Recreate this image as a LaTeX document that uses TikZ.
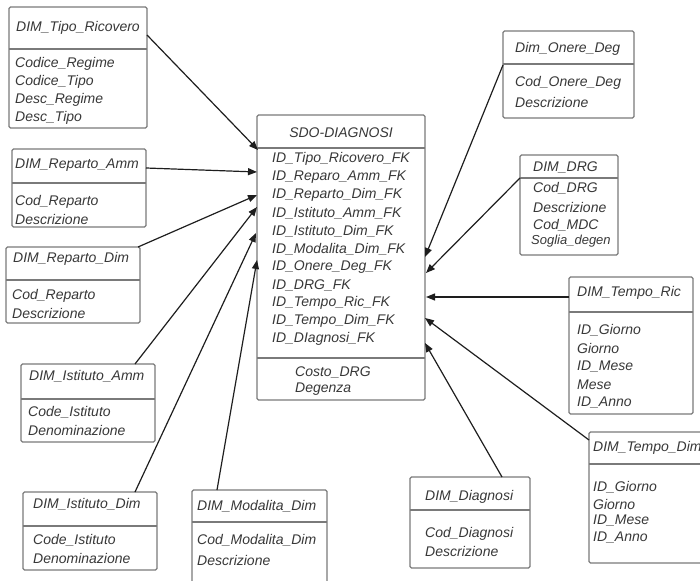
\documentclass[tikz,border=0pt]{standalone}
\usepackage{fontspec}
\setmainfont{Liberation Sans}
\usetikzlibrary{arrows.meta}
\definecolor{txt}{HTML}{383838}
\definecolor{bord}{HTML}{7A7A7A}
\definecolor{wire}{HTML}{1E1E1E}
\tikzset{
  ebox/.style={draw=bord,line width=1.1pt,rounded corners=1.5pt,fill=white},
  div/.style={draw=bord,line width=1.1pt},
  attr/.style={anchor=west,inner sep=0pt,text=txt,font=\fontsize{14}{16}\selectfont\itshape},
  small/.style={attr,font=\fontsize{13}{15}\selectfont\itshape},
  ctitle/.style={attr,anchor=center},
  link/.style={draw=wire,line width=1.2pt,-{Triangle[length=9pt,width=7pt]}}
}
\begin{document}
\begin{tikzpicture}[x=1pt,y=-1pt]
\useasboundingbox (0,0) rectangle (700,580);
\clip (0,0) rectangle (700,580);
% ---------- DIM_Tipo_Ricovero
\draw[ebox] (9,7) rectangle (147,128);
\draw[div] (9,49) -- (147,49);
\node[attr] (t1) at (16,28) {DIM\_Tipo\_Ricovero};
\node[attr] (t1a) at (15,64) {Codice\_Regime};
\node[attr] (t1b) at (15,82) {Codice\_Tipo};
\node[attr] (t1c) at (15,100) {Desc\_Regime};
\node[attr] (t1d) at (15,118) {Desc\_Tipo};
\coordinate (tipo) at (147,35);
% ---------- DIM_Reparto_Amm
\draw[ebox] (12,149) rectangle (146,227);
\draw[div] (12,183) -- (146,183);
\node[attr] (t2) at (15,165) {DIM\_Reparto\_Amm};
\node[attr] (t2a) at (15,202) {Cod\_Reparto};
\node[attr] (t2b) at (15,219) {Descrizione};
\coordinate (repamm) at (146,168);
% ---------- DIM_Reparto_Dim
\draw[ebox] (6,247) rectangle (140,323);
\draw[div] (6,280) -- (140,280);
\node[attr] (t3) at (13,259) {DIM\_Reparto\_Dim};
\node[attr] (t3a) at (12,296) {Cod\_Reparto};
\node[attr] (t3b) at (12,313) {Descrizione};
\coordinate (repdim) at (138,247);
% ---------- DIM_Istituto_Amm
\draw[ebox] (21,364) rectangle (155,442);
\draw[div] (21,399) -- (155,399);
\node[attr] (t4) at (29,376) {DIM\_Istituto\_Amm};
\node[attr] (t4a) at (28,412) {Code\_Istituto};
\node[attr] (t4b) at (28,430) {Denominazione};
\coordinate (istamm) at (135,364);
% ---------- DIM_Istituto_Dim
\draw[ebox] (23,492) rectangle (157,570);
\draw[div] (23,526) -- (157,526);
\node[attr] (t5) at (33,504) {DIM\_Istituto\_Dim};
\node[attr] (t5a) at (33,540) {Code\_Istituto};
\node[attr] (t5b) at (33,558) {Denominazione};
\coordinate (istdim) at (135,492);
% ---------- DIM_Modalita_Dim
\draw[ebox] (192,490) rectangle (327,600);
\draw[div] (192,522) -- (327,522);
\node[attr] (t6) at (197,506) {DIM\_Modalita\_Dim};
\node[attr] (t6a) at (197,540) {Cod\_Modalita\_Dim};
\node[attr] (t6b) at (197,560) {Descrizione};
\coordinate (moddim) at (217,490);
% ---------- DIM_Diagnosi
\draw[ebox] (410,477) rectangle (530,568);
\draw[div] (410,510) -- (530,510);
\node[attr] (t7) at (425,497) {DIM\_Diagnosi};
\node[attr] (t7a) at (425,534) {Cod\_Diagnosi};
\node[attr] (t7b) at (425,551) {Descrizione};
\coordinate (diagn) at (502,477);
% ---------- DIM_Tempo_Dim
\draw[ebox] (589,432) rectangle (720,563);
\draw[div] (589,464) -- (720,464);
\node[attr] (t8) at (593,448) {DIM\_Tempo\_Dim};
\node[attr] (t8a) at (593,487) {ID\_Giorno};
\node[attr] (t8b) at (593,504) {Giorno};
\node[attr] (t8c) at (593,521) {ID\_Mese};
\node[attr] (t8d) at (593,538) {ID\_Anno};
\coordinate (tempodim) at (589,440);
% ---------- DIM_Tempo_Ric
\draw[ebox] (569,277) rectangle (693,414);
\draw[div] (569,312) -- (693,312);
\node[attr] (t9) at (577,293) {DIM\_Tempo\_Ric};
\node[attr] (t9a) at (577,330) {ID\_Giorno};
\node[attr] (t9b) at (577,348) {Giorno};
\node[attr] (t9c) at (577,367) {ID\_Mese};
\node[attr] (t9d) at (577,385) {Mese};
\node[attr] (t9e) at (577,403) {ID\_Anno};
\coordinate (temporic) at (569,297);
% ---------- DIM_DRG
\draw[ebox] (520,155) rectangle (618,255);
\draw[div] (520,178) -- (618,178);
\node[attr] (t10) at (533,167) {DIM\_DRG};
\node[attr] (t10a) at (533,188) {Cod\_DRG};
\node[attr] (t10b) at (533,207) {Descrizione};
\node[attr] (t10c) at (533,225) {Cod\_MDC};
\node[small] (t10d) at (531,241) {Soglia\_degen};
\coordinate (drg) at (520,178);
% ---------- Dim_Onere_Deg
\draw[ebox] (503,31) rectangle (634,118);
\draw[div] (503,64) -- (634,64);
\node[attr] (t11) at (515,49) {Dim\_Onere\_Deg};
\node[attr] (t11a) at (515,83) {Cod\_Onere\_Deg};
\node[attr] (t11b) at (515,102) {Descrizione};
\coordinate (onere) at (503,65);
% ---------- SDO-DIAGNOSI
\draw[ebox] (257,115) rectangle (425,400);
\draw[div] (257,148) -- (425,148);
\draw[div] (257,358) -- (425,358);
\node[ctitle] (sdo) at (341,133) {SDO-DIAGNOSI};
\node[attr] (f1) at (272,159) {ID\_Tipo\_Ricovero\_FK};
\node[attr] (f2) at (272,177) {ID\_Reparo\_Amm\_FK};
\node[attr] (f3) at (272,195) {ID\_Reparto\_Dim\_FK};
\node[attr] (f4) at (272,213) {ID\_Istituto\_Amm\_FK};
\node[attr] (f5) at (272,231) {ID\_Istituto\_Dim\_FK};
\node[attr] (f6) at (272,249) {ID\_Modalita\_Dim\_FK};
\node[attr] (f7) at (272,267) {ID\_Onere\_Deg\_FK};
\node[attr] (f8) at (272,285) {ID\_DRG\_FK};
\node[attr] (f9) at (272,303) {ID\_Tempo\_Ric\_FK};
\node[attr] (f10) at (272,321) {ID\_Tempo\_Dim\_FK};
\node[attr] (f11) at (272,339) {ID\_DIagnosi\_FK};
\node[attr] (m1) at (295,372) {Costo\_DRG};
\node[attr] (m2) at (295,389) {Degenza};
% arrow tips on SDO edges
\coordinate (L1) at (258,150);
\coordinate (L2) at (257,172);
\coordinate (L3) at (257,195);
\coordinate (L4) at (257,207);
\coordinate (L5) at (256,233);
\coordinate (L6) at (257,260);
\coordinate (R1) at (425,257);
\coordinate (R2) at (426,273);
\coordinate (R3) at (426,297);
\coordinate (R4) at (425,318);
\coordinate (R5) at (425,343);
% ---------- connectors
\draw[link] (tipo) -- (L1);
\draw[link] (repamm) -- (L2);
\draw[link] (repdim) -- (L3);
\draw[link] (istamm) -- (L4);
\draw[link] (istdim) -- (L5);
\draw[link] (moddim) -- (L6);
\draw[link] (onere) -- (R1);
\draw[link] (drg) -- (R2);
\draw[link] (temporic) -- (R3);
\draw[link] (tempodim) -- (R4);
\draw[link] (diagn) -- (R5);
\end{tikzpicture}
\end{document}
